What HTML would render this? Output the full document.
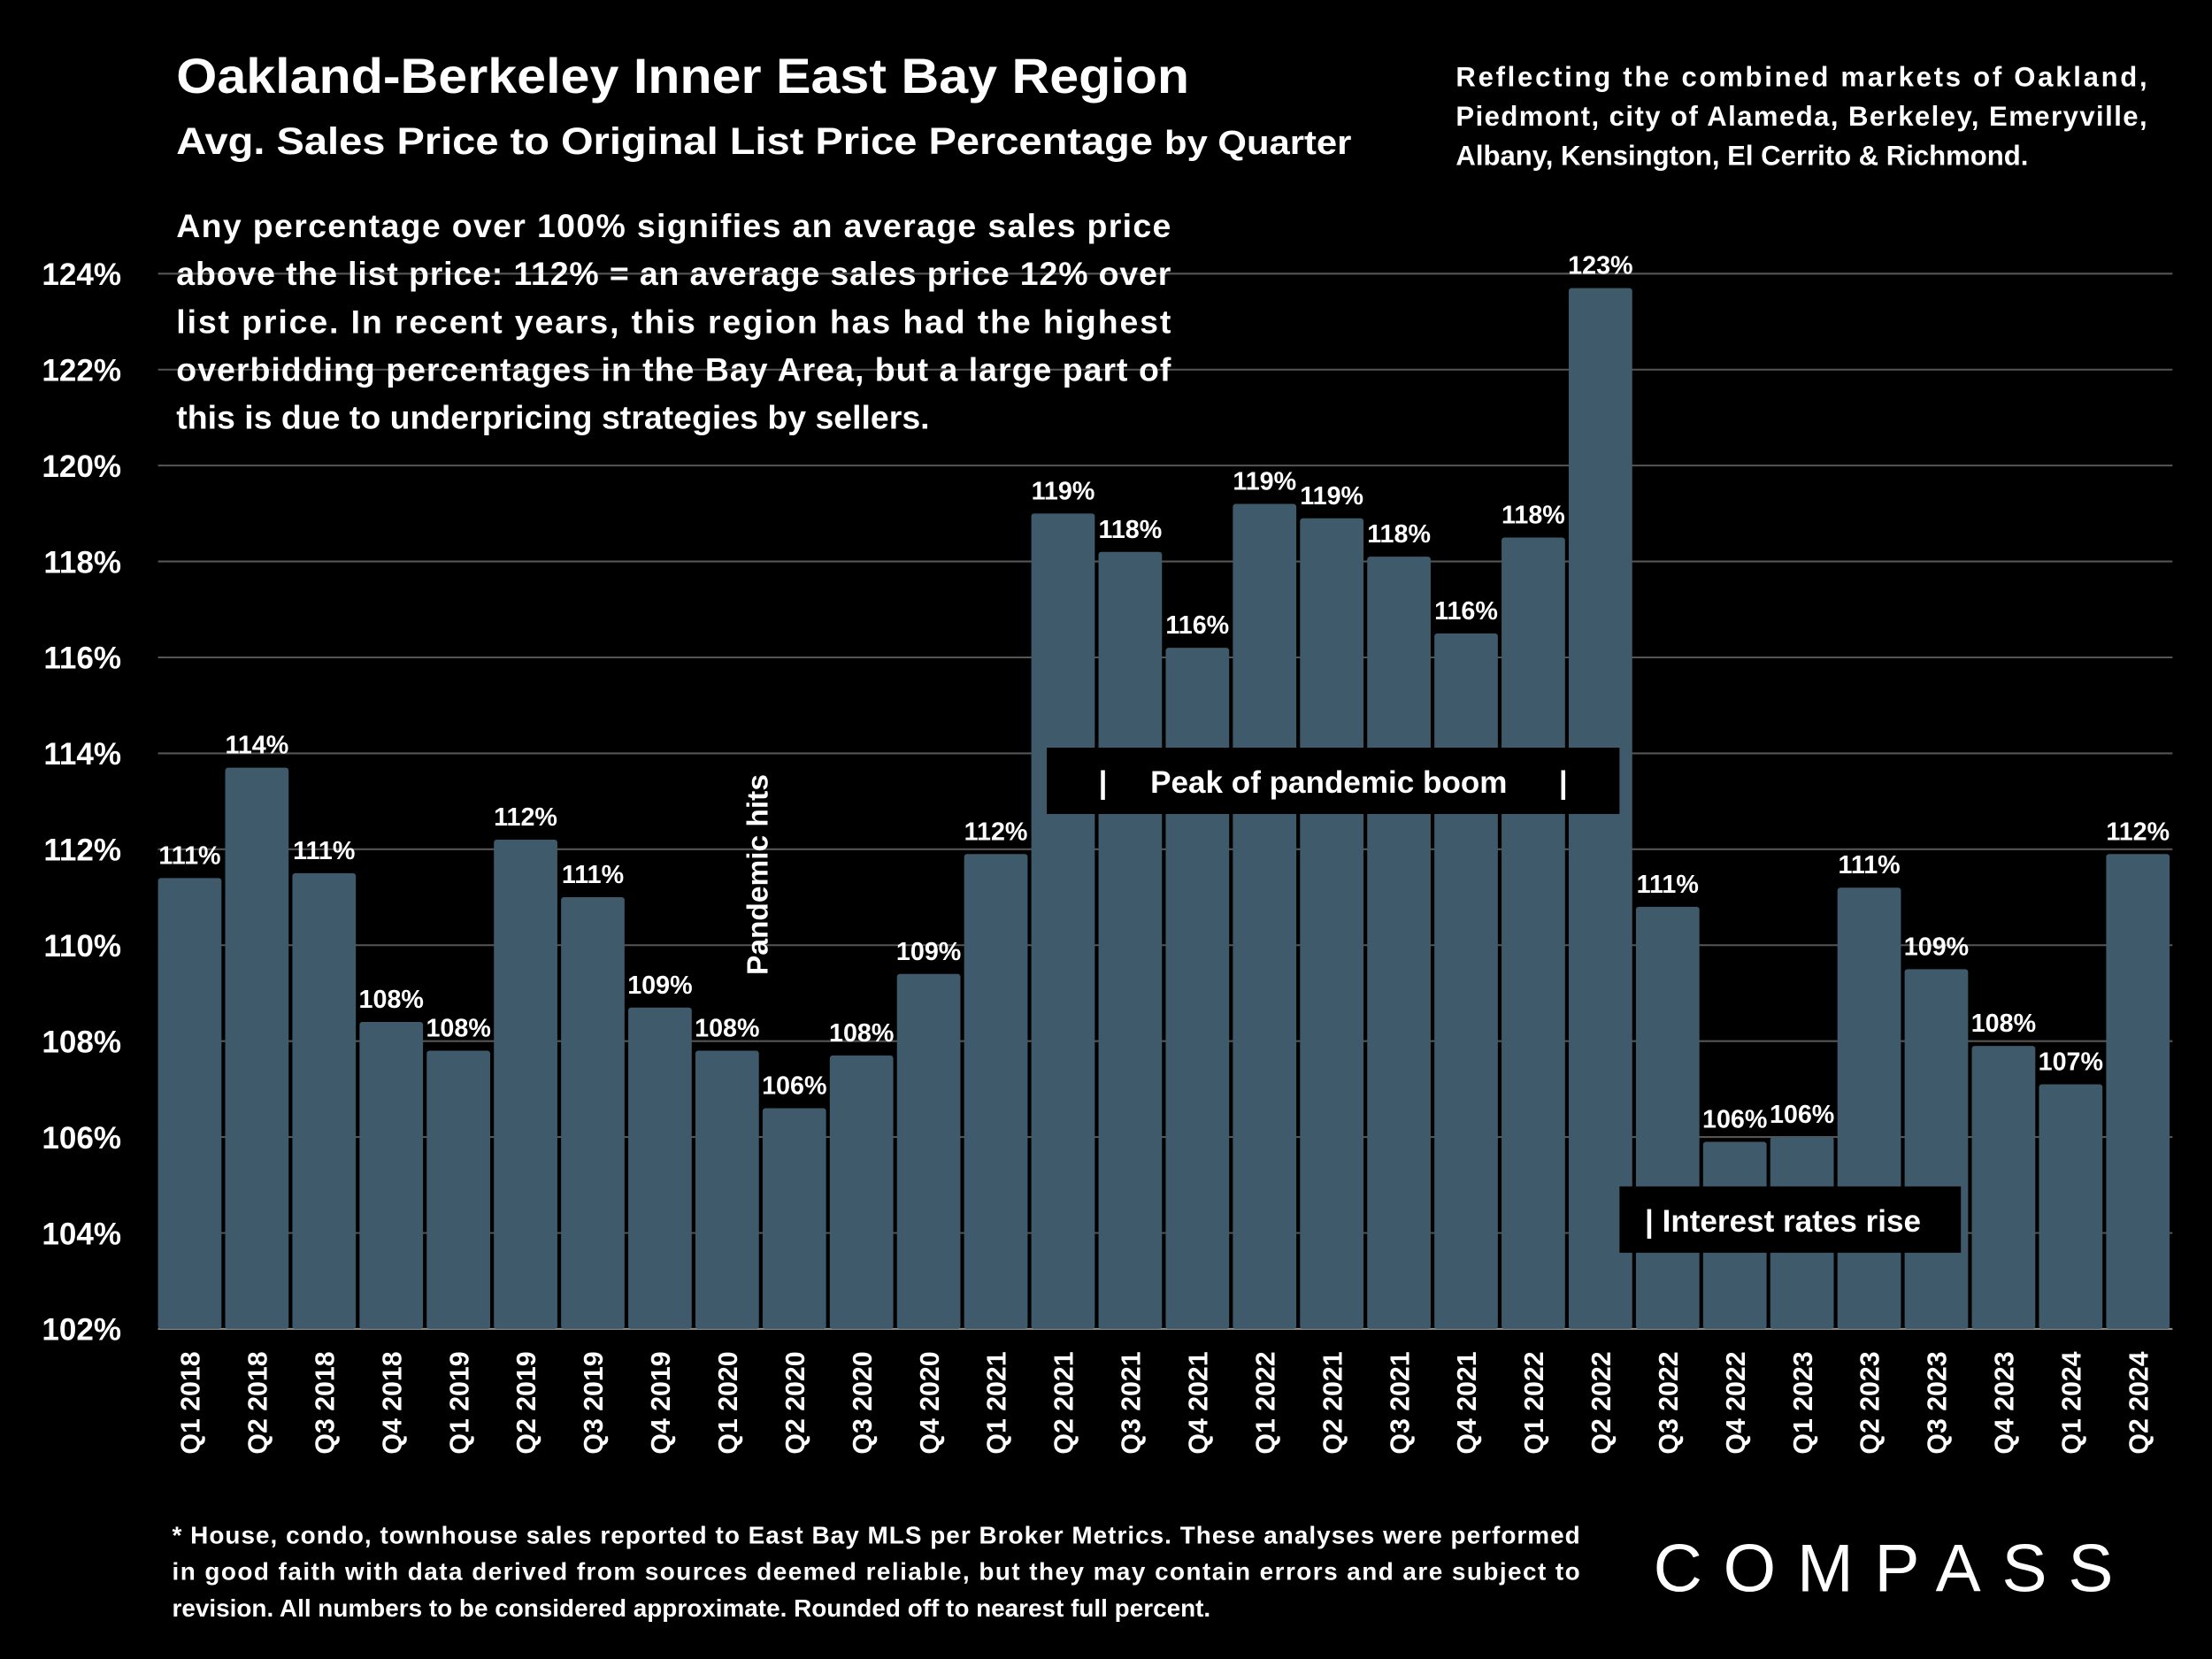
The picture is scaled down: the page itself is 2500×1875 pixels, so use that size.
<!DOCTYPE html>
<html><head><meta charset="utf-8"><style>
html,body{margin:0;padding:0;background:#000;}
svg{display:block;}
text{font-family:"Liberation Sans",sans-serif;font-weight:bold;fill:#fff;}
</style></head><body>
<svg id="chart" width="2500" height="1875" viewBox="0 0 1568 1176" xmlns="http://www.w3.org/2000/svg">
<rect width="1568" height="1176" fill="#000"/>
<g>
<text x="125" y="66" font-size="35" textLength="718" lengthAdjust="spacingAndGlyphs">Oakland-Berkeley Inner East Bay Region</text>
<text x="125" y="109" font-size="27" textLength="833" lengthAdjust="spacingAndGlyphs">Avg. Sales Price to Original List Price Percentage <tspan font-size="24">by Quarter</tspan></text>
</g>
<g font-size="19.5">
<text x="1032" y="61" textLength="490" lengthAdjust="spacing">Reflecting the combined markets of Oakland,</text>
<text x="1032" y="89" textLength="490" lengthAdjust="spacing">Piedmont, city of Alameda, Berkeley, Emeryville,</text>
<text x="1032" y="117">Albany, Kensington, El Cerrito &amp; Richmond.</text>
</g>
<g id="grid"></g>
<g id="bars"></g>
<g font-size="23.5">
<text x="125" y="168" textLength="705" lengthAdjust="spacing">Any percentage over 100% signifies an average sales price</text>
<text x="125" y="202" textLength="705" lengthAdjust="spacing">above the list price: 112% = an average sales price 12% over</text>
<text x="125" y="236" textLength="705" lengthAdjust="spacing">list price. In recent years, this region has had the highest</text>
<text x="125" y="270" textLength="705" lengthAdjust="spacing">overbidding percentages in the Bay Area, but a large part of</text>
<text x="125" y="304">this is due to underpricing strategies by sellers.</text>
</g>
<text transform="translate(544,620) rotate(-90)" text-anchor="middle" font-size="21">Pandemic hits</text>
<g>
<rect x="742" y="530" width="406" height="47" fill="#000"/>
<text x="945" y="562" text-anchor="middle" font-size="22" xml:space="preserve">|     Peak of pandemic boom      |</text>
</g>
<g>
<rect x="1148" y="841" width="242" height="47" fill="#000"/>
<text x="1166" y="873" font-size="22">| Interest rates rise</text>
</g>
<g font-size="17.5">
<text x="122" y="1094" textLength="998" lengthAdjust="spacing">* House, condo, townhouse sales reported to East Bay MLS per Broker Metrics. These analyses were performed</text>
<text x="122" y="1120" textLength="998" lengthAdjust="spacing">in good faith with data derived from sources deemed reliable, but they may contain errors and are subject to</text>
<text x="122" y="1146">revision. All numbers to  be considered approximate. Rounded off to nearest full percent.</text>
</g>
<text x="1172" y="1128" font-size="48" style="font-weight:normal" letter-spacing="7" textLength="333" lengthAdjust="spacing">COMPASS</text>
<script>
const categories=["Q1 2018","Q2 2018","Q3 2018","Q4 2018","Q1 2019","Q2 2019","Q3 2019","Q4 2019","Q1 2020","Q2 2020","Q3 2020","Q4 2020","Q1 2021","Q2 2021","Q3 2021","Q4 2021","Q1 2022","Q2 2021","Q3 2021","Q4 2021","Q1 2022","Q2 2022","Q3 2022","Q4 2022","Q1 2023","Q2 2023","Q3 2023","Q4 2023","Q1 2024","Q2 2024"];
const values=[111.4,113.7,111.5,108.4,107.8,112.2,111.0,108.7,107.8,106.6,107.7,109.4,111.9,119.0,118.2,116.2,119.2,118.9,118.1,116.5,118.5,123.7,110.8,105.9,106.0,111.2,109.5,107.9,107.1,111.9];
const valueLabels=["111%","114%","111%","108%","108%","112%","111%","109%","108%","106%","108%","109%","112%","119%","118%","116%","119%","119%","118%","116%","118%","123%","111%","106%","106%","111%","109%","108%","107%","112%"];
const yTicks=[102,104,106,108,110,112,114,116,118,120,122,124];
const NS="http://www.w3.org/2000/svg";
const y=v=>942-(v-102)*34;
const step=47.62, x0=112, bw=45;
const xc=i=>x0+bw/2+i*step;
const grid=document.getElementById('grid');
yTicks.forEach(t=>{
  const l=document.createElementNS(NS,'line');
  l.setAttribute('x1',112);l.setAttribute('x2',1540);
  l.setAttribute('y1',y(t));l.setAttribute('y2',y(t));
  l.setAttribute('stroke',t===102?'#888':'#555');l.setAttribute('stroke-width',1.3);
  
  
  grid.appendChild(l);
  const tx=document.createElementNS(NS,'text');
  tx.setAttribute('x',86);tx.setAttribute('y',y(t)+8);tx.setAttribute('text-anchor','end');tx.setAttribute('font-size','22');
  tx.textContent=t+'%';
  
  
  grid.appendChild(tx);
});
const bars=document.getElementById('bars');
values.forEach((v,i)=>{
  const r=document.createElementNS(NS,'rect');
  r.setAttribute('x',xc(i)-bw/2);r.setAttribute('y',y(v));
  r.setAttribute('width',bw);r.setAttribute('height',942-y(v));
  r.setAttribute('rx',2);r.setAttribute('fill','#3e5a6b');
  
  
  bars.appendChild(r);
  const lb=document.createElementNS(NS,'text');
  lb.setAttribute('x',xc(i));lb.setAttribute('y',y(v)-10);lb.setAttribute('text-anchor','middle');lb.setAttribute('font-size','18');
  lb.textContent=valueLabels[i];
  
  
  bars.appendChild(lb);
  const cl=document.createElementNS(NS,'text');
  cl.setAttribute('transform','translate('+(xc(i)+7)+',958) rotate(-90)');
  cl.setAttribute('text-anchor','end');cl.setAttribute('font-size','19');
  cl.textContent=categories[i];
  
  
  bars.appendChild(cl);
});
</script>
</svg>
</body></html>
